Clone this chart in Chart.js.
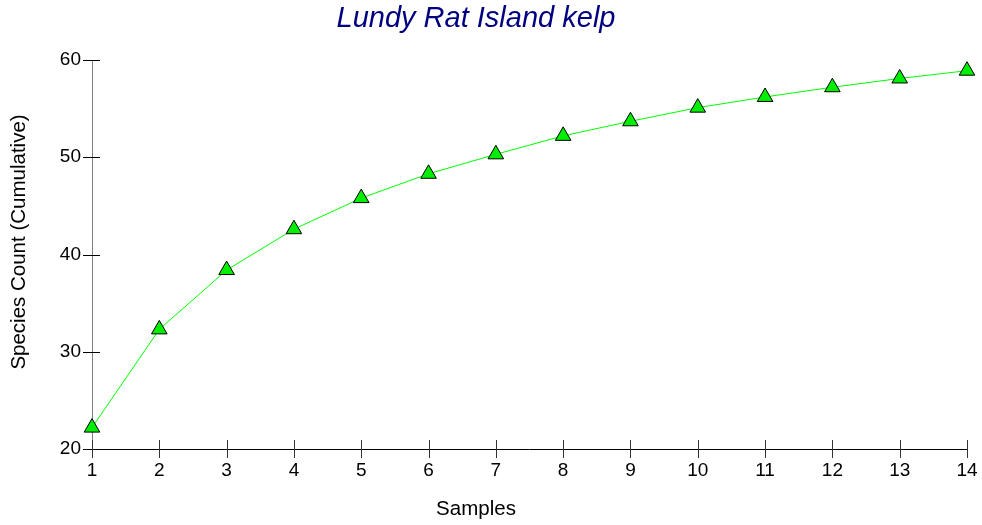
<!DOCTYPE html>
<html>
<head>
<meta charset="utf-8">
<script src="https://cdn.jsdelivr.net/npm/chart.js@4.4.0/dist/chart.umd.min.js"></script>
<style>
html,body{margin:0;padding:0;background:#fff;}
canvas{display:block;}
</style>
</head>
<body>
<canvas id="c" width="982" height="525"></canvas>
<script>
const samples = [1,2,3,4,5,6,7,8,9,10,11,12,13,14];
const speciesCount = [22.2,32.3,38.4,42.6,45.8,48.3,50.3,52.2,53.7,55.1,56.2,57.2,58.1,58.9];
const xTicks = [1,2,3,4,5,6,7,8,9,10,11,12,13,14];
const yTicks = [20,30,40,50,60];
const titleText = 'Lundy Rat Island kelp';
const xTitle = 'Samples';
const yTitle = 'Species Count (Cumulative)';

const FONT = '"Liberation Sans", Arial, sans-serif';

const axesPlugin = {
  id: 'customAxes',
  beforeDatasetsDraw(chart) {
    const ctx = chart.ctx, xs = chart.scales.x, ys = chart.scales.y, a = chart.chartArea;
    ctx.save();
    ctx.lineWidth = 1;
    ctx.strokeStyle = '#808080';
    ctx.beginPath(); ctx.moveTo(Math.round(a.left)+0.5, a.top); ctx.lineTo(Math.round(a.left)+0.5, a.bottom); ctx.stroke();
    ctx.strokeStyle = '#000';
    yTicks.forEach(v => {
      const y = Math.round(ys.getPixelForValue(v)) + 0.5;
      ctx.beginPath(); ctx.moveTo(a.left - 9, y); ctx.lineTo(a.left + 8, y); ctx.stroke();
    });
    ctx.beginPath(); ctx.moveTo(a.left, Math.round(a.bottom)+0.5); ctx.lineTo(a.right, Math.round(a.bottom)+0.5); ctx.stroke();
    ctx.strokeStyle = '#333';
    xTicks.forEach(v => {
      const x = Math.round(xs.getPixelForValue(v)) + 0.5;
      ctx.beginPath(); ctx.moveTo(x, a.bottom - 9); ctx.lineTo(x, a.bottom + 9); ctx.stroke();
    });
    ctx.restore();
  },
  afterDraw(chart) {
    const ctx = chart.ctx, xs = chart.scales.x, ys = chart.scales.y, a = chart.chartArea;
    ctx.save();
    ctx.fillStyle = '#000';
    ctx.font = '19px ' + FONT;
    ctx.textAlign = 'right'; ctx.textBaseline = 'middle';
    yTicks.forEach(v => ctx.fillText(String(v), a.left - 11, ys.getPixelForValue(v)));
    ctx.textAlign = 'center'; ctx.textBaseline = 'top';
    xTicks.forEach(v => ctx.fillText(String(v), xs.getPixelForValue(v), a.bottom + 12));
    ctx.font = '20.5px ' + FONT;
    ctx.textBaseline = 'middle';
    ctx.fillText(xTitle, 476, 509);
    ctx.save();
    ctx.translate(19, 242);
    ctx.rotate(-Math.PI/2);
    ctx.fillText(yTitle, 0, 0);
    ctx.restore();
    ctx.fillStyle = '#000080';
    ctx.font = 'italic 29px ' + FONT;
    ctx.fillText(titleText, 476, 19);
    ctx.restore();
  }
};

new Chart(document.getElementById('c'), {
  type: 'line',
  data: {
    labels: samples,
    datasets: [{
      data: samples.map((s, i) => ({x: s, y: speciesCount[i]})),
      borderColor: '#00ff00',
      borderWidth: 1,
      backgroundColor: '#00ee00',
      pointStyle: 'triangle',
      pointRadius: 9,
      pointBorderColor: '#000',
      pointBorderWidth: 1,
      pointBackgroundColor: '#00ee00',
      tension: 0,
      clip: false
    }]
  },
  options: {
    responsive: false,
    animation: false,
    layout: { padding: { left: 92, right: 15, top: 60, bottom: 76 } },
    plugins: { legend: { display: false }, title: { display: false }, tooltip: { enabled: false } },
    scales: {
      x: { type: 'linear', min: 1, max: 14, display: false },
      y: { type: 'linear', min: 20, max: 60, display: false }
    }
  },
  plugins: [axesPlugin]
});
</script>
</body>
</html>
